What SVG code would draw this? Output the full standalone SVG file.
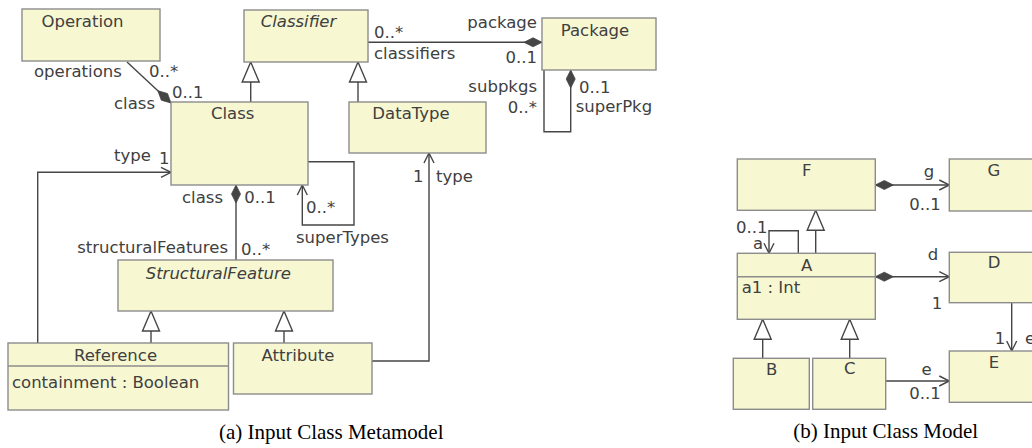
<svg xmlns="http://www.w3.org/2000/svg" width="1032" height="448" viewBox="0 0 1032 448">
<style>
.box{fill:#f7f7d2;stroke:#8c8c8c;stroke-width:1.4}
.div{stroke:#8c8c8c;stroke-width:1.4}
.ln{fill:none;stroke:#454545;stroke-width:1.4}
text{font-family:"DejaVu Sans",sans-serif;font-size:16.5px;fill:#404040}
.c{text-anchor:middle}
.e{text-anchor:end}
.i{font-style:italic}
.cap{font-family:"Liberation Serif","Times New Roman",serif;font-size:21px;fill:#000}
</style>
<defs>
<marker id="dia" viewBox="-20 -6 22 12" refX="0" refY="0" markerWidth="22" markerHeight="12" orient="auto-start-reverse" markerUnits="userSpaceOnUse">
<path d="M0,0 L-9,-4.5 L-18,0 L-9,4.5 Z" fill="#454545" stroke="#454545" stroke-width="0.8"/>
</marker>
<marker id="arr" viewBox="-12 -7 14 14" refX="0" refY="0" markerWidth="14" markerHeight="14" orient="auto" markerUnits="userSpaceOnUse">
<path d="M-10,-5 L0,0 L-10,5" fill="none" stroke="#454545" stroke-width="1.4"/>
</marker>
<marker id="tri" viewBox="-22 -10 24 20" refX="0" refY="0" markerWidth="24" markerHeight="20" orient="auto" markerUnits="userSpaceOnUse">
<path d="M0,0 L-20,-8.5 L-20,8.5 Z" fill="#fff" stroke="#454545" stroke-width="1.4"/>
</marker>
</defs>

<g id="connectors">
<path class="ln" d="M127,62 L171,103" marker-end="url(#dia)"/>
<path class="ln" d="M250.7,102 L250.7,62" marker-end="url(#tri)"/>
<path class="ln" d="M358,102 L358,62" marker-end="url(#tri)"/>
<path class="ln" d="M368,42.3 L542,42.3" marker-end="url(#dia)"/>
<path class="ln" d="M544,70 L544,131.7 L570.7,131.7 L570.7,70" marker-end="url(#dia)"/>
<path class="ln" d="M308,161.7 L354,161.7 L354,225 L302.3,225 L302.3,185" marker-end="url(#arr)"/>
<path class="ln" d="M236,260 L236,185" marker-end="url(#dia)"/>
<path class="ln" d="M37.7,343 L37.7,172.3 L171,172.3" marker-end="url(#arr)"/>
<path class="ln" d="M151,343 L151,311" marker-end="url(#tri)"/>
<path class="ln" d="M284,343 L284,311" marker-end="url(#tri)"/>
<path class="ln" d="M372,361 L429,361 L429,153" marker-end="url(#arr)"/>

<path class="ln" d="M875.3,185 L949.3,185" marker-start="url(#dia)" marker-end="url(#arr)"/>
<path class="ln" d="M798.3,253.3 L798.3,230.7 L769,230.7 L769,253.3" marker-end="url(#arr)"/>
<path class="ln" d="M815.7,253.3 L815.7,210.3" marker-end="url(#tri)"/>
<path class="ln" d="M875.3,276.7 L949.3,276.7" marker-start="url(#dia)" marker-end="url(#arr)"/>
<path class="ln" d="M1011.7,302.7 L1011.7,351" marker-end="url(#arr)"/>
<path class="ln" d="M762.7,358.3 L762.7,319.3" marker-end="url(#tri)"/>
<path class="ln" d="M849.7,358.3 L849.7,319.3" marker-end="url(#tri)"/>
<path class="ln" d="M885.7,381 L949.3,381" marker-end="url(#arr)"/>
</g>

<g id="connector-labels">
<text x="34" y="77">operations</text>
<text x="149" y="77">0..*</text>
<text x="155" y="109" class="e">class</text>
<text x="172" y="98">0..1</text>
<text x="374" y="38">0..*</text>
<text x="374" y="59">classifiers</text>
<text x="537" y="28" class="e">package</text>
<text x="537" y="63" class="e">0..1</text>
<text x="537" y="92" class="e">subpkgs</text>
<text x="537" y="113" class="e">0..*</text>
<text x="579" y="93">0..1</text>
<text x="575.7" y="112">superPkg</text>
<text x="306" y="213">0..*</text>
<text x="296" y="243">superTypes</text>
<text x="223" y="203" class="e">class</text>
<text x="244.3" y="203">0..1</text>
<text x="228" y="253" class="e">structuralFeatures</text>
<text x="241" y="255">0..*</text>
<text x="114" y="161">type</text>
<text x="159" y="164">1</text>
<text x="423.5" y="182" class="e">1</text>
<text x="436" y="182">type</text>

<text x="929" y="177" class="c">g</text>
<text x="940.7" y="210" class="e">0..1</text>
<text x="736" y="232.7">0..1</text>
<text x="753" y="249">a</text>
<text x="933" y="260" class="c">d</text>
<text x="937" y="309" class="c">1</text>
<text x="1000" y="344" class="c">1</text>
<text x="1025" y="344">e</text>
<text x="926.7" y="375" class="c">e</text>
<text x="940.7" y="399" class="e">0..1</text>
</g>

<g id="Operation"><rect class="box" x="22" y="9" width="138" height="52"/><text x="82.5" y="26.5" class="c">Operation</text></g>
<g id="Classifier"><rect class="box" x="244" y="10" width="124" height="52"/><text x="298.5" y="27" class="c i">Classifier</text></g>
<g id="Class"><rect class="box" x="171" y="102" width="137" height="83"/><text x="232.7" y="119" class="c">Class</text></g>
<g id="DataType"><rect class="box" x="349" y="102" width="137" height="51"/><text x="411" y="119" class="c">DataType</text></g>
<g id="Package"><rect class="box" x="542" y="18" width="114" height="52"/><text x="595" y="36" class="c">Package</text></g>
<g id="StructuralFeature"><rect class="box" x="118" y="260" width="215" height="51"/><text x="218.3" y="279" class="c i">StructuralFeature</text></g>
<g id="Reference"><rect class="box" x="8" y="343" width="220.5" height="67"/><line class="div" x1="8" y1="366" x2="228.5" y2="366"/><text x="115.5" y="361" class="c">Reference</text><text x="12" y="388">containment : Boolean</text></g>
<g id="Attribute"><rect class="box" x="233.5" y="343" width="138.5" height="51"/><text x="298" y="361" class="c">Attribute</text></g>

<g id="F"><rect class="box" x="737.3" y="159" width="138" height="51.3"/><text x="806.7" y="176" class="c">F</text></g>
<g id="G"><rect class="box" x="949.3" y="159" width="100" height="52"/><text x="994" y="176" class="c">G</text></g>
<g id="A"><rect class="box" x="737.3" y="253.3" width="138" height="66"/><line class="div" x1="737.3" y1="276.7" x2="875.3" y2="276.7"/><text x="806.7" y="271" class="c">A</text><text x="741.7" y="293">a1 : Int</text></g>
<g id="D"><rect class="box" x="949.3" y="252.3" width="100" height="50.4"/><text x="994" y="268" class="c">D</text></g>
<g id="E"><rect class="box" x="949.3" y="351" width="100" height="51.3"/><text x="994" y="368" class="c">E</text></g>
<g id="B"><rect class="box" x="733.3" y="358.3" width="76" height="51"/><text x="771.7" y="375" class="c">B</text></g>
<g id="C"><rect class="box" x="812.7" y="358.3" width="73" height="51"/><text x="849.7" y="374" class="c">C</text></g>

<g id="captions">
<text class="cap" x="219" y="439">(a) Input Class Metamodel</text>
<text class="cap" x="793.3" y="437.5">(b) Input Class Model</text>
</g>
</svg>
